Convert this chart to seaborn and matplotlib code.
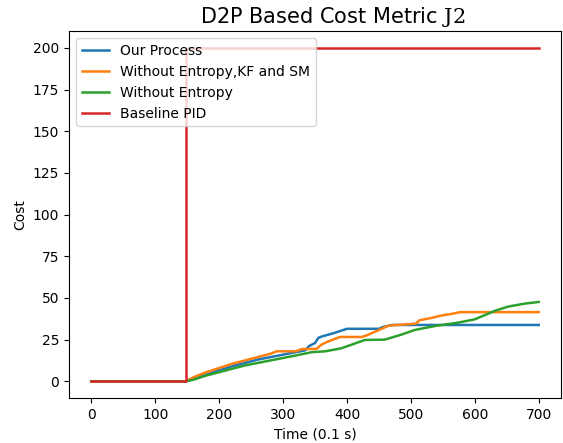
import pandas as pd
import matplotlib.pyplot as plt
import seaborn as sns

plt.rcParams["mathtext.fontset"] = "dejavuserif"

# Werte
t_ours = [0, 148, 160, 180, 200, 220, 240, 260, 280, 300, 320, 335, 340, 350, 355, 360, 380, 400, 450, 455, 470, 700]
y_ours = [0, 0, 1.5, 4, 6.6, 9, 11, 13, 14.5, 16, 17.5, 18.6, 21, 23, 26, 26.8, 29, 31.5, 31.5, 32.4, 33.8, 33.8]

t_kf = [0, 148, 160, 180, 200, 220, 240, 260, 280, 290, 320, 330, 352, 360, 371, 389, 423, 430, 449, 465,
        508, 513, 532, 547, 563, 577, 700]
y_kf = [0, 0, 2.5, 5.5, 8, 10.5, 12.5, 14.5, 16.5, 18, 18, 19.4, 19.4, 22, 24, 26.6, 26.6, 27.4, 30.6, 33.4,
        34.6, 36.6, 38, 39.4, 40.4, 41.5, 41.5]

t_ent = [0, 148, 160, 180, 200, 220, 240, 260, 280, 300, 320, 345, 366, 391, 428, 459, 485, 506, 538, 574,
         600, 631, 652, 678, 700]
y_ent = [0, 0, 1, 3.5, 5.5, 7.5, 9.5, 11, 12.5, 14, 15.5, 17.5, 18, 19.8, 24.8, 25, 28, 30.8, 33.2, 35.2,
         37.2, 42.2, 44.8, 46.6, 47.6]

t_pid = [0, 148, 148, 700]
y_pid = [0, 0, 200, 200]

labels = ["Our Process", "Without Entropy,KF and SM", "Without Entropy", "Baseline PID"]

frames = []
for lab, t, y in zip(labels, [t_ours, t_kf, t_ent, t_pid], [y_ours, y_kf, y_ent, y_pid]):
    frames.append(pd.DataFrame({"Time": t, "Cost": y, "Methode": lab}))
df = pd.concat(frames, ignore_index=True)

# Plot
fig = plt.figure(figsize=(5.63, 4.43), dpi=100)
ax = fig.add_axes([0.1226, 0.1016, 0.874, 0.828])
sns.lineplot(data=df, x="Time", y="Cost", hue="Methode", palette="tab10",
             estimator=None, sort=False, linewidth=1.8, ax=ax)
ax.set_title(r"D2P Based Cost Metric $\mathrm{J2}$", fontsize=15, x=0.535)
ax.set_xlabel("Time (0.1 s)")
ax.set_ylabel("Cost")
ax.set_xticks(range(0, 701, 100))
ax.set_yticks(range(0, 201, 25))
ax.legend(loc="upper left", title=None)
plt.savefig("out.png", dpi=100)
